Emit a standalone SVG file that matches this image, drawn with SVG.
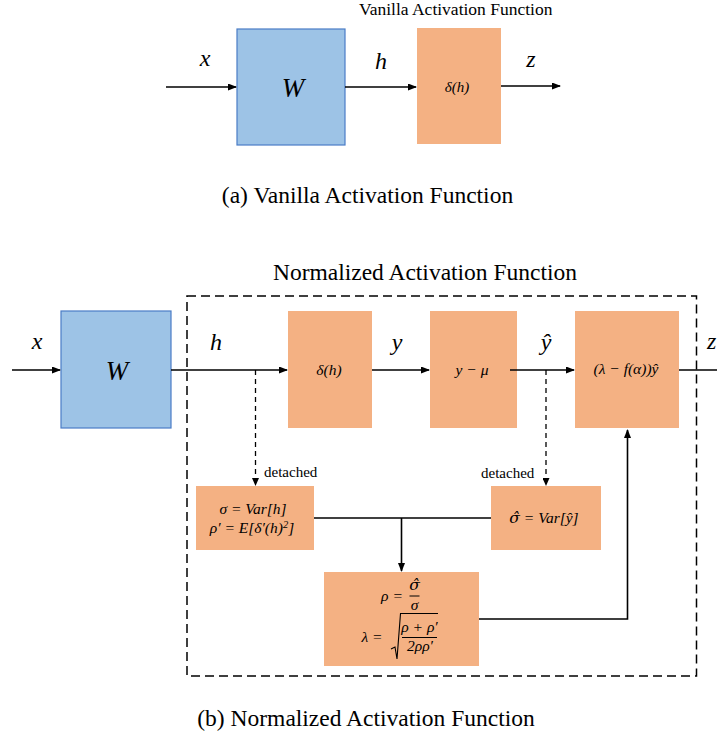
<svg xmlns="http://www.w3.org/2000/svg" width="717" height="738" viewBox="0 0 717 738">
<style>
text{font-family:'Liberation Serif','Times New Roman',serif;fill:#000}
.m{font-style:italic}
.lbl{font-size:24px}
.bx{font-size:15.5px}
.hat{font-family:'DejaVu Serif',serif}
.blue{fill:#9DC3E6;stroke:#4A7CC6;stroke-width:1.2}
.or{fill:#F4B183}
.ln{stroke:#000;stroke-width:1.6;fill:none}
.dl{stroke:#000;stroke-width:1.3;fill:none;stroke-dasharray:5,4}
.frame{stroke:#000;stroke-width:1.5;fill:none;stroke-dasharray:9,5}
</style>
<defs>
<marker id="ah" markerUnits="userSpaceOnUse" markerWidth="9" markerHeight="7" refX="8" refY="3.5" orient="auto">
<path d="M0,0 L9,3.5 L0,7 z" fill="#000"/>
</marker>
<marker id="ahs" markerUnits="userSpaceOnUse" markerWidth="8" markerHeight="7" refX="7" refY="3.5" orient="auto">
<path d="M0,0 L8,3.5 L0,7 z" fill="#000"/>
</marker>
</defs>

<!-- (a) Vanilla -->
<text x="359" y="15" font-size="17.5">Vanilla Activation Function</text>
<g id="a-W">
<rect class="blue" x="237" y="29" width="108" height="116"/>
<text class="m" x="293" y="97" font-size="27" text-anchor="middle">W</text>
</g>
<g id="a-act">
<rect class="or" x="417" y="28" width="84" height="116"/>
<text class="m" x="457" y="92" font-size="15" text-anchor="middle">δ(h)</text>
</g>
<g id="a-connectors">
<line class="ln" x1="166" y1="87" x2="236" y2="87" marker-end="url(#ah)"/>
<line class="ln" x1="345" y1="87" x2="416" y2="87" marker-end="url(#ah)"/>
<line class="ln" x1="501" y1="86" x2="560" y2="86" marker-end="url(#ah)"/>
</g>
<g id="a-labels">
<text class="m lbl" x="205" y="66" text-anchor="middle">x</text>
<text class="m lbl" x="381" y="69" text-anchor="middle">h</text>
<text class="m lbl" x="531" y="67" text-anchor="middle">z</text>
</g>
<text x="367.5" y="203" font-size="23.5" text-anchor="middle">(a) Vanilla Activation Function</text>

<!-- (b) Normalized -->
<text x="425" y="280" font-size="23.5" text-anchor="middle">Normalized Activation Function</text>
<rect id="frame" class="frame" x="187" y="296" width="509.5" height="380"/>

<g id="b-W">
<rect class="blue" x="61" y="311" width="110" height="117"/>
<text class="m" x="117" y="380" font-size="27" text-anchor="middle">W</text>
</g>
<g id="b-act">
<rect class="or" x="288" y="311" width="84" height="117"/>
<text class="m bx" x="329" y="375" text-anchor="middle">δ(h)</text>
</g>
<g id="b-center">
<rect class="or" x="430" y="311" width="87" height="117"/>
<text class="m bx" x="472" y="375" text-anchor="middle">y − μ</text>
</g>
<g id="b-scale">
<rect class="or" x="575" y="311" width="104" height="117"/>
<text class="m bx" x="626" y="374" text-anchor="middle">(λ − f(α))ŷ</text>
</g>
<g id="b-var1">
<rect class="or" x="196" y="486" width="118" height="64"/>
<text class="m bx" x="253" y="514" text-anchor="middle">σ = Var[h]</text>
<text class="m bx" x="252" y="533" text-anchor="middle">ρ′ = E[δ′(h)<tspan font-size="10.5" dy="-5">2</tspan><tspan dy="5">]</tspan></text>
</g>
<g id="b-var2">
<rect class="or" x="491" y="486" width="110" height="64"/>
<text class="m bx" x="544" y="523" text-anchor="middle"><tspan class="hat">σ̂</tspan> = Var[ŷ]</text>
</g>
<g id="b-lambda">
<rect class="or" x="324" y="572" width="155" height="94"/>
<text class="m bx" x="392" y="601" text-anchor="middle">ρ =</text>
<text class="m bx hat" x="414.5" y="590" text-anchor="middle">σ̂</text>
<line x1="409.5" y1="596" x2="419.5" y2="596" stroke="#000" stroke-width="1"/>
<text class="m bx" x="414.5" y="610" text-anchor="middle">σ</text>
<text class="m bx" x="372" y="642" text-anchor="middle">λ =</text>
<polyline points="391,649 395,647 397,659 400.5,613.5 438,613.5" fill="none" stroke="#000" stroke-width="1.1"/>
<text class="m bx" x="419.5" y="632" text-anchor="middle">ρ + ρ′</text>
<line x1="402" y1="637.5" x2="437" y2="637.5" stroke="#000" stroke-width="1"/>
<text class="m bx" x="420" y="651" text-anchor="middle">2ρρ′</text>
</g>

<g id="b-connectors">
<line class="ln" x1="12" y1="370" x2="60" y2="370" marker-end="url(#ah)"/>
<line class="ln" x1="171" y1="370" x2="287" y2="370" marker-end="url(#ah)"/>
<line class="ln" x1="372" y1="370" x2="429" y2="370" marker-end="url(#ah)"/>
<line class="ln" x1="510" y1="370" x2="574" y2="370" marker-end="url(#ah)"/>
<line class="ln" x1="679" y1="370" x2="717" y2="370"/>
<line class="dl" x1="255.5" y1="370" x2="255.5" y2="485" marker-end="url(#ahs)"/>
<line class="dl" x1="546" y1="370" x2="546" y2="485" marker-end="url(#ahs)"/>
<line class="ln" x1="314" y1="518" x2="491" y2="518"/>
<line class="ln" x1="401.5" y1="518" x2="401.5" y2="571" marker-end="url(#ah)"/>
<polyline class="ln" points="479,619 627.5,619 627.5,430" marker-end="url(#ah)"/>
</g>
<g id="b-labels">
<text class="m lbl" x="37" y="349" text-anchor="middle">x</text>
<text class="m lbl" x="216" y="350" text-anchor="middle">h</text>
<text class="m lbl" x="397" y="350" text-anchor="middle">y</text>
<text class="m lbl" x="546" y="350" text-anchor="middle">ŷ</text>
<text class="m lbl" x="707" y="349">z</text>
<text x="264" y="477" font-size="15">detached</text>
<text x="481" y="478" font-size="15">detached</text>
</g>
<text x="366" y="726" font-size="23.5" text-anchor="middle">(b) Normalized Activation Function</text>
</svg>
